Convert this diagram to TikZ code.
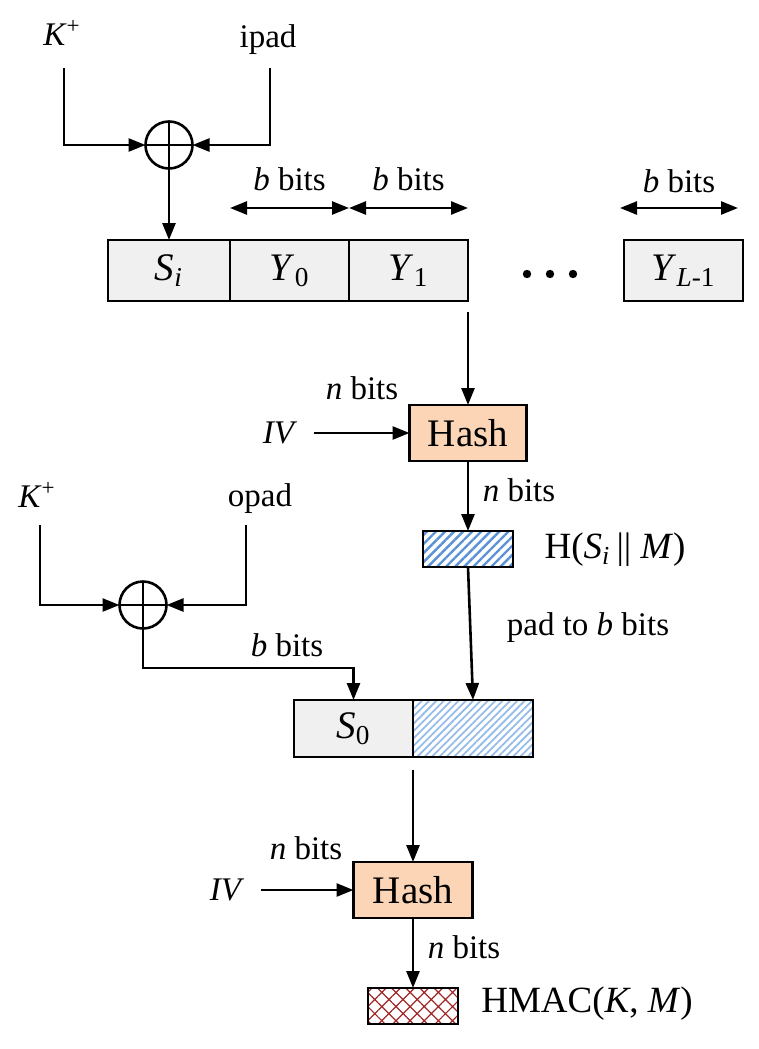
\documentclass[tikz,border=0pt]{standalone}
\usepackage{fontspec}
\setmainfont{Liberation Serif}
\usepackage{xcolor}
\definecolor{hmgray}{RGB}{240,240,240}
\definecolor{hmpeach}{RGB}{251,213,181}
\definecolor{hmblue}{RGB}{90,145,215}
\definecolor{hmlight}{RGB}{150,188,232}
\definecolor{hmred}{RGB}{160,40,40}
\usepackage{tikz}
\usetikzlibrary{arrows.meta, calc, patterns.meta}

\tikzset{
  conn/.style={line width=1.3pt, -{Triangle[length=8.5pt,width=6.5pt]}},
  dbl/.style={line width=1.3pt, {Triangle[length=8.5pt,width=6.5pt]}-{Triangle[length=8.5pt,width=6.5pt]}},
  lbl/.style={inner sep=1pt, font=\fontsize{16.5}{19}\selectfont},
  big/.style={inner sep=1pt, font=\fontsize{18.5}{22}\selectfont},
  blk/.style={draw, fill=hmgray, line width=1.2pt, minimum height=30.5pt, inner sep=0pt, outer sep=0pt, font=\fontsize{19.5}{22}\selectfont},
  hashbox/.style={draw, fill=hmpeach, line width=1.2pt, minimum width=58.5pt, minimum height=28pt, inner sep=0pt, outer sep=0pt, font=\fontsize{19.5}{22}\selectfont},
  xorgate/.style={circle, draw, line width=1.3pt, minimum size=23.5pt, inner sep=0pt, outer sep=0pt,
    path picture={\draw[line width=1.3pt] (path picture bounding box.north) -- (path picture bounding box.south)
      (path picture bounding box.west) -- (path picture bounding box.east);}}
}

\begin{document}
\begin{tikzpicture}[x=0.5pt, y=-0.5pt]
  \useasboundingbox (0,0) rectangle (759,1049);

  % --- Inner key: K+ xor ipad ---
  \node[lbl] (kp1) at (62,33) {\textit{K}\textsuperscript{+}};
  \node[lbl] (ipad) at (268,40) {ipad};
  \node[xorgate] (xor1) at (169,145) {};
  \coordinate (kp1in) at (64,68);
  \coordinate (ipadin) at (270,68);
  \draw[conn] (kp1in) |- (xor1.west);
  \draw[conn] (ipadin) |- (xor1.east);

  % Message blocks
  \node[blk, minimum width=61pt] (si) at (169,270.5) {\textit{S}\textsubscript{\textit{i}}};
  \node[blk, minimum width=59.5pt] (y0) at (289.5,270.5) {\textit{Y}\textsubscript{0}};
  \node[blk, minimum width=59.5pt] (y1) at (408.5,270.5) {\textit{Y}\textsubscript{1}};
  \node[blk, minimum width=59.5pt] (yl) at (683.5,270.5) {\textit{Y}\textsubscript{\textit{L}-1}};
  \fill (527,274) circle (2.1pt) (550,274) circle (2.1pt) (573,274) circle (2.1pt);
  \draw[conn] (xor1.south) -- (si.north);

  % Block widths
  \draw[dbl] ($(y0.north west)+(0,-32)$) -- ($(y0.north east)+(0,-32)$) node[lbl, midway, above=7pt] (bb1) {\textit{b} bits};
  \draw[dbl] ($(y1.north west)+(0,-32)$) -- ($(y1.north east)+(0,-32)$) node[lbl, midway, above=7pt] (bb2) {\textit{b} bits};
  \draw[dbl] ($(yl.north west)+(-4,-32)$) -- ($(yl.north east)+(-5,-32)$) node[lbl, midway, above=6pt] (bb3) {\textit{b} bits};

  % --- Inner hash ---
  \node[hashbox] (hash1) at (468,433) {Hash};
  \node[lbl] (iv1) at (280,433) {\textit{IV}};
  \node[lbl] (nb1) at (362,388) {\textit{n} bits};
  \draw[conn] ($(y1.south east)+(0,11)$) -- (hash1.north);
  \draw[conn] ([xshift=7pt]iv1.east) -- (hash1.west);

  \node[draw, line width=1.2pt, minimum width=45pt, minimum height=18pt, inner sep=0pt, outer sep=0pt,
    pattern={Lines[angle=45,distance=3.2pt,line width=1.2pt]}, pattern color=hmblue] (inner) at (468,549) {};
  \node[big] (hsm) at (615,550) {H(\textit{S}\textsubscript{\textit{i}}\,\textbar\textbar\ \textit{M})};
  \node[lbl] (nb2) at (519,490) {\textit{n} bits};
  \draw[conn] (hash1.south) -- (inner.north);

  % --- Outer key: K+ xor opad ---
  \node[lbl] (kp2) at (37,495) {\textit{K}\textsuperscript{+}};
  \node[lbl] (opad) at (260,499) {opad};
  \node[xorgate] (xor2) at (143,605) {};
  \coordinate (kp2in) at (40,525);
  \coordinate (opadin) at (246,525);
  \draw[conn] (kp2in) |- (xor2.west);
  \draw[conn] (opadin) |- (xor2.east);

  % Outer block
  \node[blk, minimum width=59.5pt, minimum height=28.5pt] (s0) at (353.5,728.5) {\textit{S}\textsubscript{0}};
  \node[draw, line width=1.2pt, minimum width=60pt, minimum height=28.5pt, inner sep=0pt, outer sep=0pt,
    pattern={Lines[angle=45,distance=2.6pt,line width=0.9pt]}, pattern color=hmlight] (padded) at (473,728.5) {};
  \draw[conn] (xor2.south) |- ($(s0.north)+(0,-32)$) -- (s0.north);
  \node[lbl] (bb4) at (287,645) {\textit{b} bits};
  \draw[conn] (inner.south) -- (padded.north);
  \node[lbl] (padlbl) at (588,628) {pad to \textit{b} bits};

  % --- Outer hash ---
  \node[hashbox, minimum width=59.5pt] (hash2) at (413,890) {Hash};
  \node[lbl] (iv2) at (227,890) {\textit{IV}};
  \node[lbl] (nb3) at (306,848) {\textit{n} bits};
  \draw[conn] ($(s0.south east)+(0,13)$) -- (hash2.north);
  \draw[conn] ([xshift=7pt]iv2.east) -- (hash2.west);

  \node[draw, line width=1.2pt, minimum width=45pt, minimum height=18pt, inner sep=0pt, outer sep=0pt,
    pattern={Hatch[angle=45,distance=5pt,line width=0.6pt]}, pattern color=hmred] (hmac) at (413,1006) {};
  \node[lbl] (nb4) at (464,947) {\textit{n} bits};
  \node[big] (hmaclbl) at (587,1004) {HMAC(\textit{K}, \textit{M})};
  \draw[conn] (hash2.south) -- (hmac.north);
\end{tikzpicture}
\end{document}
